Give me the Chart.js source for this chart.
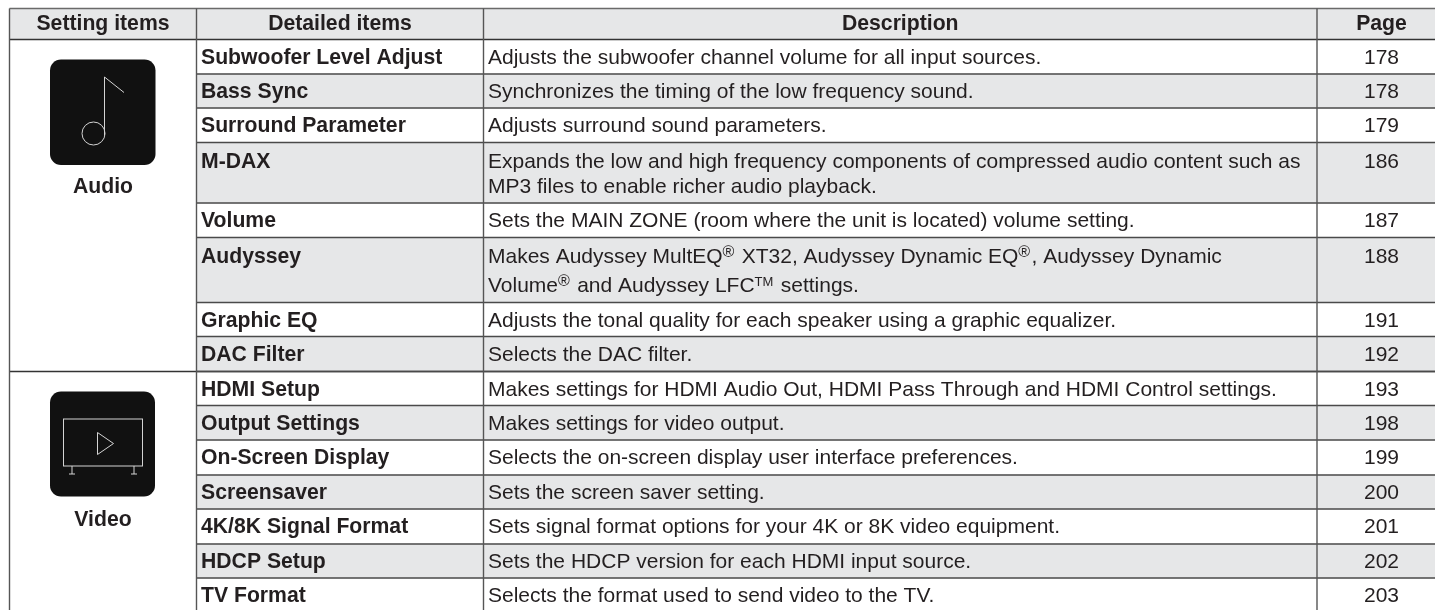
<!DOCTYPE html>
<html>
<head>
<meta charset="utf-8">
<title>Setting items</title>
<script src="https://cdn.jsdelivr.net/npm/chart.js@4"></script>
<style>
  html, body { margin: 0; padding: 0; background: #fff; overflow: hidden; }
  canvas { display: block; }
</style>
</head>
<body>
<canvas id="tableChart" width="1435" height="610"></canvas>
<script>
// --- TABLE CONTENT ---
const headers = ['Setting items', 'Detailed items', 'Description', 'Page'];
const settingItems = ['Audio', 'Video'];
const detailItems = [
    'Subwoofer Level Adjust', 'Bass Sync', 'Surround Parameter', 'M-DAX', 'Volume',
    'Audyssey', 'Graphic EQ', 'DAC Filter', 'HDMI Setup', 'Output Settings',
    'On-Screen Display', 'Screensaver', '4K/8K Signal Format', 'HDCP Setup', 'TV Format'
];
// {..} marks superscript, \n marks a second line
const descriptions = [
    'Adjusts the subwoofer channel volume for all input sources.',
    'Synchronizes the timing of the low frequency sound.',
    'Adjusts surround sound parameters.',
    'Expands the low and high frequency components of compressed audio content such as\nMP3 files to enable richer audio playback.',
    'Sets the MAIN ZONE (room where the unit is located) volume setting.',
    'Makes Audyssey MultEQ{®} XT32, Audyssey Dynamic EQ{®}, Audyssey Dynamic\nVolume{®} and Audyssey LFC{TM} settings.',
    'Adjusts the tonal quality for each speaker using a graphic equalizer.',
    'Selects the DAC filter.',
    'Makes settings for HDMI Audio Out, HDMI Pass Through and HDMI Control settings.',
    'Makes settings for video output.',
    'Selects the on-screen display user interface preferences.',
    'Sets the screen saver setting.',
    'Sets signal format options for your 4K or 8K video equipment.',
    'Sets the HDCP version for each HDMI input source.',
    'Selects the format used to send video to the TV.'
];
const pages = [178, 178, 179, 186, 187, 188, 191, 192, 193, 198, 199, 200, 201, 202, 203];
const shadedRows = [1, 3, 5, 7, 9, 11, 13];
const audioRowCount = 8;

// --- LAYOUT ---
const columnEdges = [9.5, 196.5, 483.5, 1317, 1446];
const tableTop = 8.5;
const headerBottom = 39.5;
const rowHeights = [34.5, 34, 34.5, 60.5, 34.5, 65, 34, 35, 34, 34.5, 35, 34, 35, 34, 34];
const secondLineGap = { 3: 25, 5: 28.5 };

const rowEdges = rowHeights.reduce((acc, h) => { acc.push(acc[acc.length - 1] + h); return acc; }, [headerBottom]);

const COLOR_TEXT = '#231f20';
const COLOR_SHADE = '#e6e7e8';
const COLOR_LINE = '#4a4a4a';
const COLOR_ICON = '#111111';
const COLOR_GLYPH = '#d4d4d4';
const FONT_BODY = '21px "Liberation Sans"';
const FONT_BOLD = 'bold 21.2px "Liberation Sans"';
const FONT_REG_MARK = '16px "Liberation Sans"';
const FONT_TM_MARK = '13px "Liberation Sans"';

// Shaded bands are floating bars, one dataset per band because each has its own height
function shadeDataset(top, bottom, left) {
    return {
        data: [{ x: [left, 1435], y: (top + bottom) / 2 }],
        backgroundColor: COLOR_SHADE,
        borderWidth: 0,
        barThickness: bottom - top,
        grouped: false
    };
}

const datasets = [shadeDataset(tableTop, headerBottom, columnEdges[0])];
shadedRows.forEach(i => datasets.push(shadeDataset(rowEdges[i], rowEdges[i + 1], columnEdges[1])));

function drawRichText(ctx, text, x, y) {
    const parts = text.split(/\{(.+?)\}/);
    parts.forEach((part, i) => {
        const isSup = i % 2 === 1;
        ctx.font = !isSup ? FONT_BODY : (part === 'TM' ? FONT_TM_MARK : FONT_REG_MARK);
        ctx.fillText(part, x, isSup ? y - 6 : y);
        x += ctx.measureText(part).width + (isSup ? 1.5 : 0);
    });
}

function drawIconBox(ctx, x, y, size) {
    ctx.fillStyle = COLOR_ICON;
    ctx.beginPath();
    ctx.roundRect(x, y, size, size, 11);
    ctx.fill();
    ctx.strokeStyle = COLOR_GLYPH;
    ctx.lineWidth = 1;
}

function drawNoteIcon(ctx, x, y) {
    drawIconBox(ctx, x, y, 105.5);
    ctx.beginPath();
    ctx.moveTo(x + 54.5, y + 76);
    ctx.lineTo(x + 54.5, y + 17.5);
    ctx.lineTo(x + 74, y + 33);
    ctx.stroke();
    ctx.beginPath();
    ctx.arc(x + 43.5, y + 74, 11.5, 0, Math.PI * 2);
    ctx.stroke();
}

function drawTvIcon(ctx, x, y) {
    drawIconBox(ctx, x, y, 105);
    ctx.strokeRect(x + 13.5, y + 27.5, 79, 47);
    ctx.beginPath();
    ctx.moveTo(x + 47.5, y + 41);
    ctx.lineTo(x + 63.5, y + 52);
    ctx.lineTo(x + 47.5, y + 63);
    ctx.closePath();
    ctx.stroke();
    [22, 84].forEach(leg => {
        ctx.beginPath();
        ctx.moveTo(x + leg, y + 74.5);
        ctx.lineTo(x + leg, y + 82.5);
        ctx.moveTo(x + leg - 3, y + 82.5);
        ctx.lineTo(x + leg + 3, y + 82.5);
        ctx.stroke();
    });
}

const tablePlugin = {
    id: 'tablePlugin',
    afterDatasetsDraw(chart) {
        const { ctx, scales: { x, y } } = chart;
        const px = v => x.getPixelForValue(v);
        const py = v => y.getPixelForValue(v);
        const hLine = (v, from, color) => {
            ctx.strokeStyle = color;
            ctx.beginPath();
            ctx.moveTo(px(from), py(v));
            ctx.lineTo(px(1435), py(v));
            ctx.stroke();
        };

        ctx.save();

        // 1. GRID LINES
        ctx.lineWidth = 1.4;
        hLine(tableTop, columnEdges[0], '#6a6a6a');
        hLine(headerBottom, columnEdges[0], '#333333');
        hLine(rowEdges[audioRowCount], columnEdges[0], '#333333');
        rowEdges.slice(1, -1).forEach(edge => hLine(edge, columnEdges[1], COLOR_LINE));
        ctx.strokeStyle = '#555555';
        columnEdges.slice(0, 4).forEach(edge => {
            ctx.beginPath();
            ctx.moveTo(px(edge), py(tableTop));
            ctx.lineTo(px(edge), py(610));
            ctx.stroke();
        });

        // 2. TEXT
        ctx.fillStyle = COLOR_TEXT;
        ctx.textBaseline = 'alphabetic';
        ctx.textAlign = 'center';
        ctx.font = FONT_BOLD;
        headers.forEach((label, i) => {
            ctx.fillText(label, px((columnEdges[i] + columnEdges[i + 1]) / 2), py(30));
        });
        ctx.fillText(settingItems[0], px(103), py(193));
        ctx.fillText(settingItems[1], px(103), py(526));

        detailItems.forEach((label, i) => {
            const baseline = rowEdges[i] + 24;
            const isTwoLine = secondLineGap[i] !== undefined;
            ctx.textAlign = 'left';
            ctx.font = FONT_BOLD;
            ctx.fillText(label, px(columnEdges[1] + 4.5), py(baseline + (isTwoLine ? 1 : 0)));

            const descBaseline = baseline + (isTwoLine ? 1.5 : 0);
            descriptions[i].split('\n').forEach((line, n) => {
                drawRichText(ctx, line, px(columnEdges[2] + 4.5), py(descBaseline + n * (secondLineGap[i] || 0)));
            });

            ctx.textAlign = 'center';
            ctx.font = FONT_BODY;
            ctx.fillText(String(pages[i]), px((columnEdges[3] + columnEdges[4]) / 2), py(descBaseline));
        });

        // 3. ICONS
        drawNoteIcon(ctx, px(50), py(59.5));
        drawTvIcon(ctx, px(50), py(391.5));

        ctx.restore();
    }
};

new Chart(document.getElementById('tableChart'), {
    type: 'bar',
    data: { datasets },
    options: {
        indexAxis: 'y',
        responsive: false,
        animation: false,
        layout: { padding: 0 },
        plugins: { legend: { display: false }, tooltip: { enabled: false }, title: { display: false } },
        scales: {
            x: { type: 'linear', min: 0, max: 1435, display: false, offset: false },
            y: { type: 'linear', min: 0, max: 610, reverse: true, display: false, offset: false }
        }
    },
    plugins: [tablePlugin]
});
</script>
</body>
</html>
